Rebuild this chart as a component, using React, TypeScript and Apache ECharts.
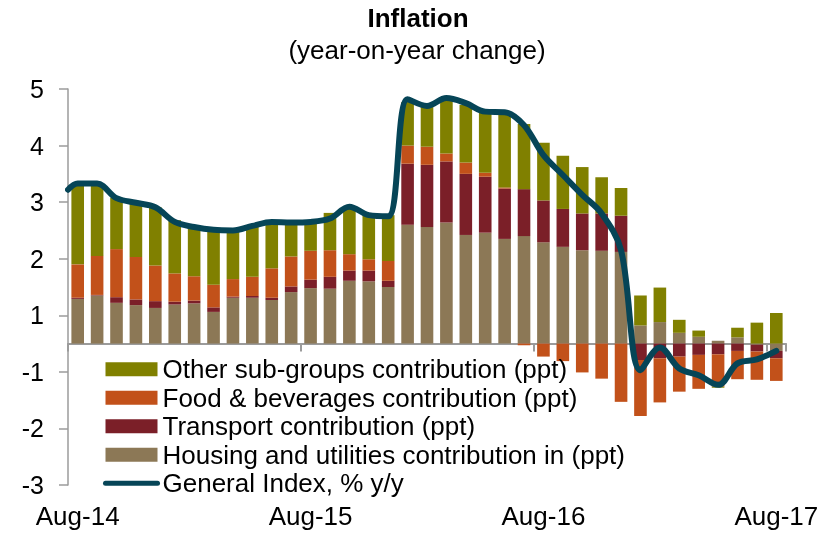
import React, { useEffect, useRef } from 'react';
import * as echarts from 'echarts';

const months = [
  'Aug-14', 'Sep-14', 'Oct-14', 'Nov-14', 'Dec-14',
  'Jan-15', 'Feb-15', 'Mar-15', 'Apr-15', 'May-15', 'Jun-15', 'Jul-15', 'Aug-15', 'Sep-15', 'Oct-15', 'Nov-15', 'Dec-15',
  'Jan-16', 'Feb-16', 'Mar-16', 'Apr-16', 'May-16', 'Jun-16', 'Jul-16', 'Aug-16', 'Sep-16', 'Oct-16', 'Nov-16', 'Dec-16',
  'Jan-17', 'Feb-17', 'Mar-17', 'Apr-17', 'May-17', 'Jun-17', 'Jul-17', 'Aug-17',
];

const housing = [0.79, 0.85, 0.72, 0.68, 0.63, 0.69, 0.71, 0.56, 0.81, 0.81, 0.77, 0.91, 0.98, 0.97, 1.11, 1.10, 1.00, 2.10, 2.06, 2.14, 1.92, 1.96, 1.85, 1.90, 1.79, 1.71, 1.65, 1.64, 1.62, 0.32, 0.38, 0.19, 0.12, 0.05, 0.11, -0.02, -0.13];
const transport = [0.02, 0.01, 0.10, 0.10, 0.12, 0.05, 0.05, 0.08, 0.02, 0.03, 0.04, 0.10, 0.15, 0.21, 0.18, 0.19, 0.11, 1.08, 1.10, 1.08, 1.08, 0.99, 0.89, 0.83, 0.74, 0.67, 0.65, 0.66, 0.64, -0.29, -0.26, -0.23, -0.20, -0.19, -0.13, -0.12, -0.13];
const food = [0.59, 0.69, 0.85, 0.75, 0.63, 0.50, 0.43, 0.40, 0.31, 0.34, 0.52, 0.53, 0.51, 0.47, 0.29, 0.20, 0.35, 0.32, 0.32, 0.14, 0.20, 0.07, 0.02, -0.03, -0.23, -0.31, -0.51, -0.62, -1.03, -0.99, -0.78, -0.62, -0.60, -0.57, -0.50, -0.50, -0.40];
const other = [1.40, 1.28, 0.91, 0.95, 1.03, 0.94, 0.89, 0.95, 0.85, 0.90, 0.82, 0.59, 0.50, 0.66, 0.84, 0.81, 0.81, 0.77, 0.71, 0.93, 1.02, 1.06, 1.29, 1.15, 1.02, 0.94, 0.82, 0.64, 0.49, 0.53, 0.61, 0.23, 0.11, -0.02, 0.17, 0.37, 0.54];
const generalIndex = [2.83, 2.83, 2.57, 2.49, 2.41, 2.15, 2.06, 2.01, 2.00, 2.08, 2.15, 2.14, 2.15, 2.21, 2.42, 2.27, 2.25, 4.32, 4.20, 4.34, 4.25, 4.10, 4.09, 3.86, 3.33, 2.98, 2.63, 2.30, 1.65, -0.47, -0.07, -0.44, -0.56, -0.73, -0.35, -0.28, -0.13];
// the smoothed line enters the plot at the left edge (half a category before Aug-14)
const generalIndexEntry = 2.72;

const NAME_OTHER = 'Other sub-groups contribution (ppt)';
const NAME_FOOD = 'Food & beverages contribution (ppt)';
const NAME_TRANSPORT = 'Transport contribution (ppt)';
const NAME_HOUSING = 'Housing and utilities contribution in (ppt)';
const NAME_GENERAL = 'General Index, % y/y';

const FONT = '"Liberation Sans", Arial, sans-serif';
const AXIS_GREY = '#9b9b9b';

export default function App() {
  const ref = useRef<HTMLDivElement>(null);
  useEffect(() => {
    if (!ref.current) return;
    const chart = echarts.init(ref.current, null, { renderer: 'svg' });
    const lineData: number[][] = [[-0.5, generalIndexEntry]].concat(generalIndex.map((v, i) => [i, v]));
    const bar = (name: string, data: number[], color: string) => ({
      type: 'bar',
      name,
      stack: 'total',
      data,
      barCategoryGap: '35%',
      itemStyle: { color },
    });
    chart.setOption({
      animation: false,
      grid: { left: 68, right: 40, top: 89, bottom: 48, containLabel: false, outerBoundsMode: 'none' },
      graphic: [
        {
          type: 'text', x: 418, y: 18,
          style: { text: 'Inflation', fontSize: 26, fontWeight: 'bold', fontFamily: FONT, fill: '#000', align: 'center', verticalAlign: 'middle' },
        },
        {
          type: 'text', x: 417, y: 50,
          style: { text: '(year-on-year change)', fontSize: 26, fontFamily: FONT, fill: '#000', align: 'center', verticalAlign: 'middle' },
        },
      ],
      legend: {
        orient: 'vertical',
        left: 103,
        top: 355,
        padding: 0,
        itemGap: 0,
        itemWidth: 52,
        itemHeight: 14,
        textStyle: { fontSize: 26, color: '#000', fontFamily: FONT, lineHeight: 28.5 },
        lineStyle: { width: 5 },
        data: [
          { name: NAME_OTHER, icon: 'rect' },
          { name: NAME_FOOD, icon: 'rect' },
          { name: NAME_TRANSPORT, icon: 'rect' },
          { name: NAME_HOUSING, icon: 'rect' },
          { name: NAME_GENERAL, itemStyle: { opacity: 0 } },
        ],
      },
      xAxis: [
        {
          type: 'category',
          data: months,
          axisLine: { show: true, onZero: true, lineStyle: { color: AXIS_GREY, width: 2 } },
          axisTick: { show: true, interval: 11, length: 8, lineStyle: { color: AXIS_GREY, width: 2 } },
          axisLabel: { show: false },
          splitLine: { show: false },
        },
        { type: 'value', min: -0.5, max: 36.5, show: false, splitLine: { show: false } },
        {
          type: 'category',
          data: months,
          position: 'bottom',
          axisLine: { show: false, onZero: false },
          axisTick: { show: false },
          axisLabel: { interval: 11, margin: 18, fontSize: 26, color: '#000', fontFamily: FONT },
          splitLine: { show: false },
        },
      ],
      yAxis: {
        type: 'value',
        min: -2.5,
        max: 4.5,
        interval: 1,
        axisLine: { show: true, onZero: false, lineStyle: { color: AXIS_GREY, width: 1.5 } },
        axisTick: { show: true, length: 9, lineStyle: { color: AXIS_GREY, width: 1.5 } },
        axisLabel: {
          margin: 24,
          fontSize: 25,
          color: '#000',
          fontFamily: FONT,
          formatter: (v: number) => String(Math.round(v > 0 ? v + 0.5 : v - 0.5)),
        },
        splitLine: { show: false },
      },
      series: [
        bar(NAME_HOUSING, housing, '#8c7856'),
        bar(NAME_TRANSPORT, transport, '#7b1f28'),
        bar(NAME_FOOD, food, '#c2511a'),
        bar(NAME_OTHER, other, '#808000'),
        {
          type: 'line',
          name: NAME_GENERAL,
          xAxisIndex: 1,
          data: lineData,
          smooth: 0.35,
          symbol: 'none',
          showSymbol: false,
          z: 5,
          lineStyle: { color: '#064557', width: 6, cap: 'round' },
          itemStyle: { color: '#064557' },
        },
      ],
    });
    return () => chart.dispose();
  }, []);
  return <div ref={ref} style={{ position: 'fixed', left: 0, top: 0, width: 826, height: 533 }} />;
}
